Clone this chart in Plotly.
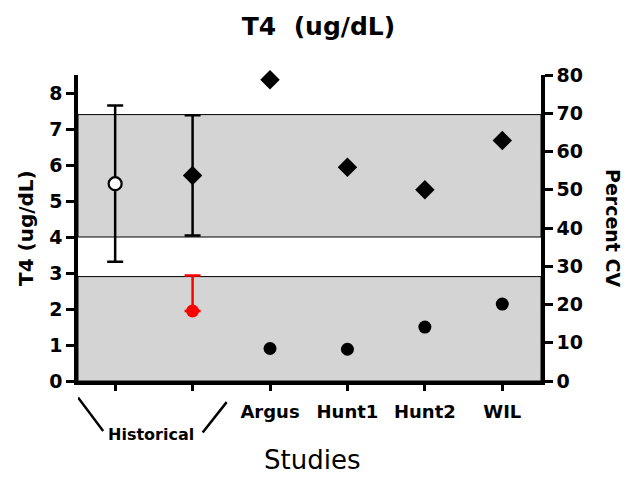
import plotly.graph_objects as go

# Study categories along the x axis (first two are the historical controls)
positions = [0, 1, 2, 3, 4, 5]
tick_labels = ["", "", "Argus", "Hunt1", "Hunt2", "WIL"]

# Historical control means (T4, ug/dL) with SD
hist_open_mean = [5.48]
hist_open_sd = [2.17]
hist_diamond_mean = [5.71]
hist_diamond_sd = [1.67]

# Historical percent CV (upper SD only)
hist_cv = [18.3]
hist_cv_sd = [9.3]

# Study T4 means (ug/dL)
study_x = [2, 3, 4, 5]
study_t4 = [8.37, 5.94, 5.31, 6.68]
# Study percent CV
study_cv = [8.5, 8.3, 14.1, 20.1]

# Reference bands (ug/dL)
bands = [(4.0, 7.4), (0.0, 2.9)]

BOLD = dict(family="DejaVu Sans, sans-serif", weight="bold", color="black")

fig = go.Figure()

fig.add_trace(go.Scatter(
    x=[0], y=hist_open_mean, mode="markers", cliponaxis=False,
    marker=dict(symbol="circle", size=13, color="white", line=dict(color="black", width=2.2)),
    error_y=dict(type="data", array=hist_open_sd, color="black", thickness=2.5, width=8),
    showlegend=False))

fig.add_trace(go.Scatter(
    x=[1], y=hist_diamond_mean, mode="markers", cliponaxis=False,
    marker=dict(symbol="diamond", size=15, color="black"),
    error_y=dict(type="data", array=hist_diamond_sd, color="black", thickness=2.5, width=8),
    showlegend=False))

fig.add_trace(go.Scatter(
    x=[1], y=hist_cv, mode="markers", yaxis="y2", cliponaxis=False,
    marker=dict(symbol="circle", size=13, color="red"),
    error_y=dict(type="data", symmetric=False, array=hist_cv_sd, arrayminus=[0],
                 color="red", thickness=2.5, width=8),
    showlegend=False))

fig.add_trace(go.Scatter(
    x=study_x, y=study_t4, mode="markers", cliponaxis=False,
    marker=dict(symbol="diamond", size=15, color="black"),
    showlegend=False))

fig.add_trace(go.Scatter(
    x=study_x, y=study_cv, mode="markers", yaxis="y2", cliponaxis=False,
    marker=dict(symbol="circle", size=13, color="black"),
    showlegend=False))

shapes = []
for lo, hi in bands:
    shapes.append(dict(type="rect", xref="paper", yref="y", x0=0, x1=1, y0=lo, y1=hi,
                       fillcolor="#d4d4d4", line=dict(color="black", width=1), layer="below"))

# Bracket strokes around the "Historical" group label
shapes.append(dict(type="line", xref="x", yref="paper", x0=-0.48, x1=-0.155, y0=-0.054, y1=-0.163,
                   line=dict(color="black", width=2.5)))
shapes.append(dict(type="line", xref="x", yref="paper", x0=1.44, x1=1.13, y0=-0.069, y1=-0.168,
                   line=dict(color="black", width=2.5)))

axis_common = dict(showline=True, linecolor="black", linewidth=3.5, ticks="outside",
                   tickwidth=2.5, tickcolor="black", showgrid=False, zeroline=False)

fig.update_layout(
    width=637, height=478,
    margin=dict(l=78, r=96, t=75, b=97),
    paper_bgcolor="white", plot_bgcolor="white",
    font=dict(family="DejaVu Sans, sans-serif", color="black"),
    shapes=shapes,
    title=dict(text="T4&nbsp; (ug/dL)", x=0.5, xanchor="center", y=1 - 26 / 478, yanchor="middle",
               font=dict(size=25, **BOLD)),
    xaxis=dict(range=[-0.48, 5.5], tickvals=positions, ticktext=tick_labels, ticklen=6,
               tickfont=dict(size=18, **BOLD), ticklabelstandoff=6, **axis_common),
    yaxis=dict(range=[0, 8.5], tickvals=[0, 1, 2, 3, 4, 5, 6, 7, 8], ticklen=8,
               tickfont=dict(size=19, **BOLD), ticklabelstandoff=0, **axis_common),
    yaxis2=dict(range=[0, 80], overlaying="y", side="right", tickvals=list(range(0, 81, 10)),
                ticklen=8, tickfont=dict(size=19, **BOLD), ticklabelstandoff=0, **axis_common),
)

fig.add_annotation(text="T4 (ug/dL)", textangle=-90, xref="paper", yref="paper",
                   x=(26 - 78) / 463, y=0.5, xanchor="center", yanchor="middle", showarrow=False,
                   font=dict(size=20, **BOLD))
fig.add_annotation(text="Percent CV", textangle=90, xref="paper", yref="paper",
                   x=(613 - 78) / 463, y=0.5, xanchor="center", yanchor="middle", showarrow=False,
                   font=dict(size=19, **BOLD))
fig.add_annotation(text="Historical", xref="x", yref="paper", x=0.46, y=-(435 - 381.5) / 306,
                   xanchor="center", yanchor="middle", showarrow=False,
                   font=dict(size=16, **BOLD))
fig.add_annotation(text="Studies", xref="paper", yref="paper", x=(312 - 78) / 463,
                   y=-(460 - 381.5) / 306, xanchor="center", yanchor="middle", showarrow=False,
                   font=dict(size=26, family="DejaVu Sans, sans-serif", color="black"))

fig.write_html("out.html")
